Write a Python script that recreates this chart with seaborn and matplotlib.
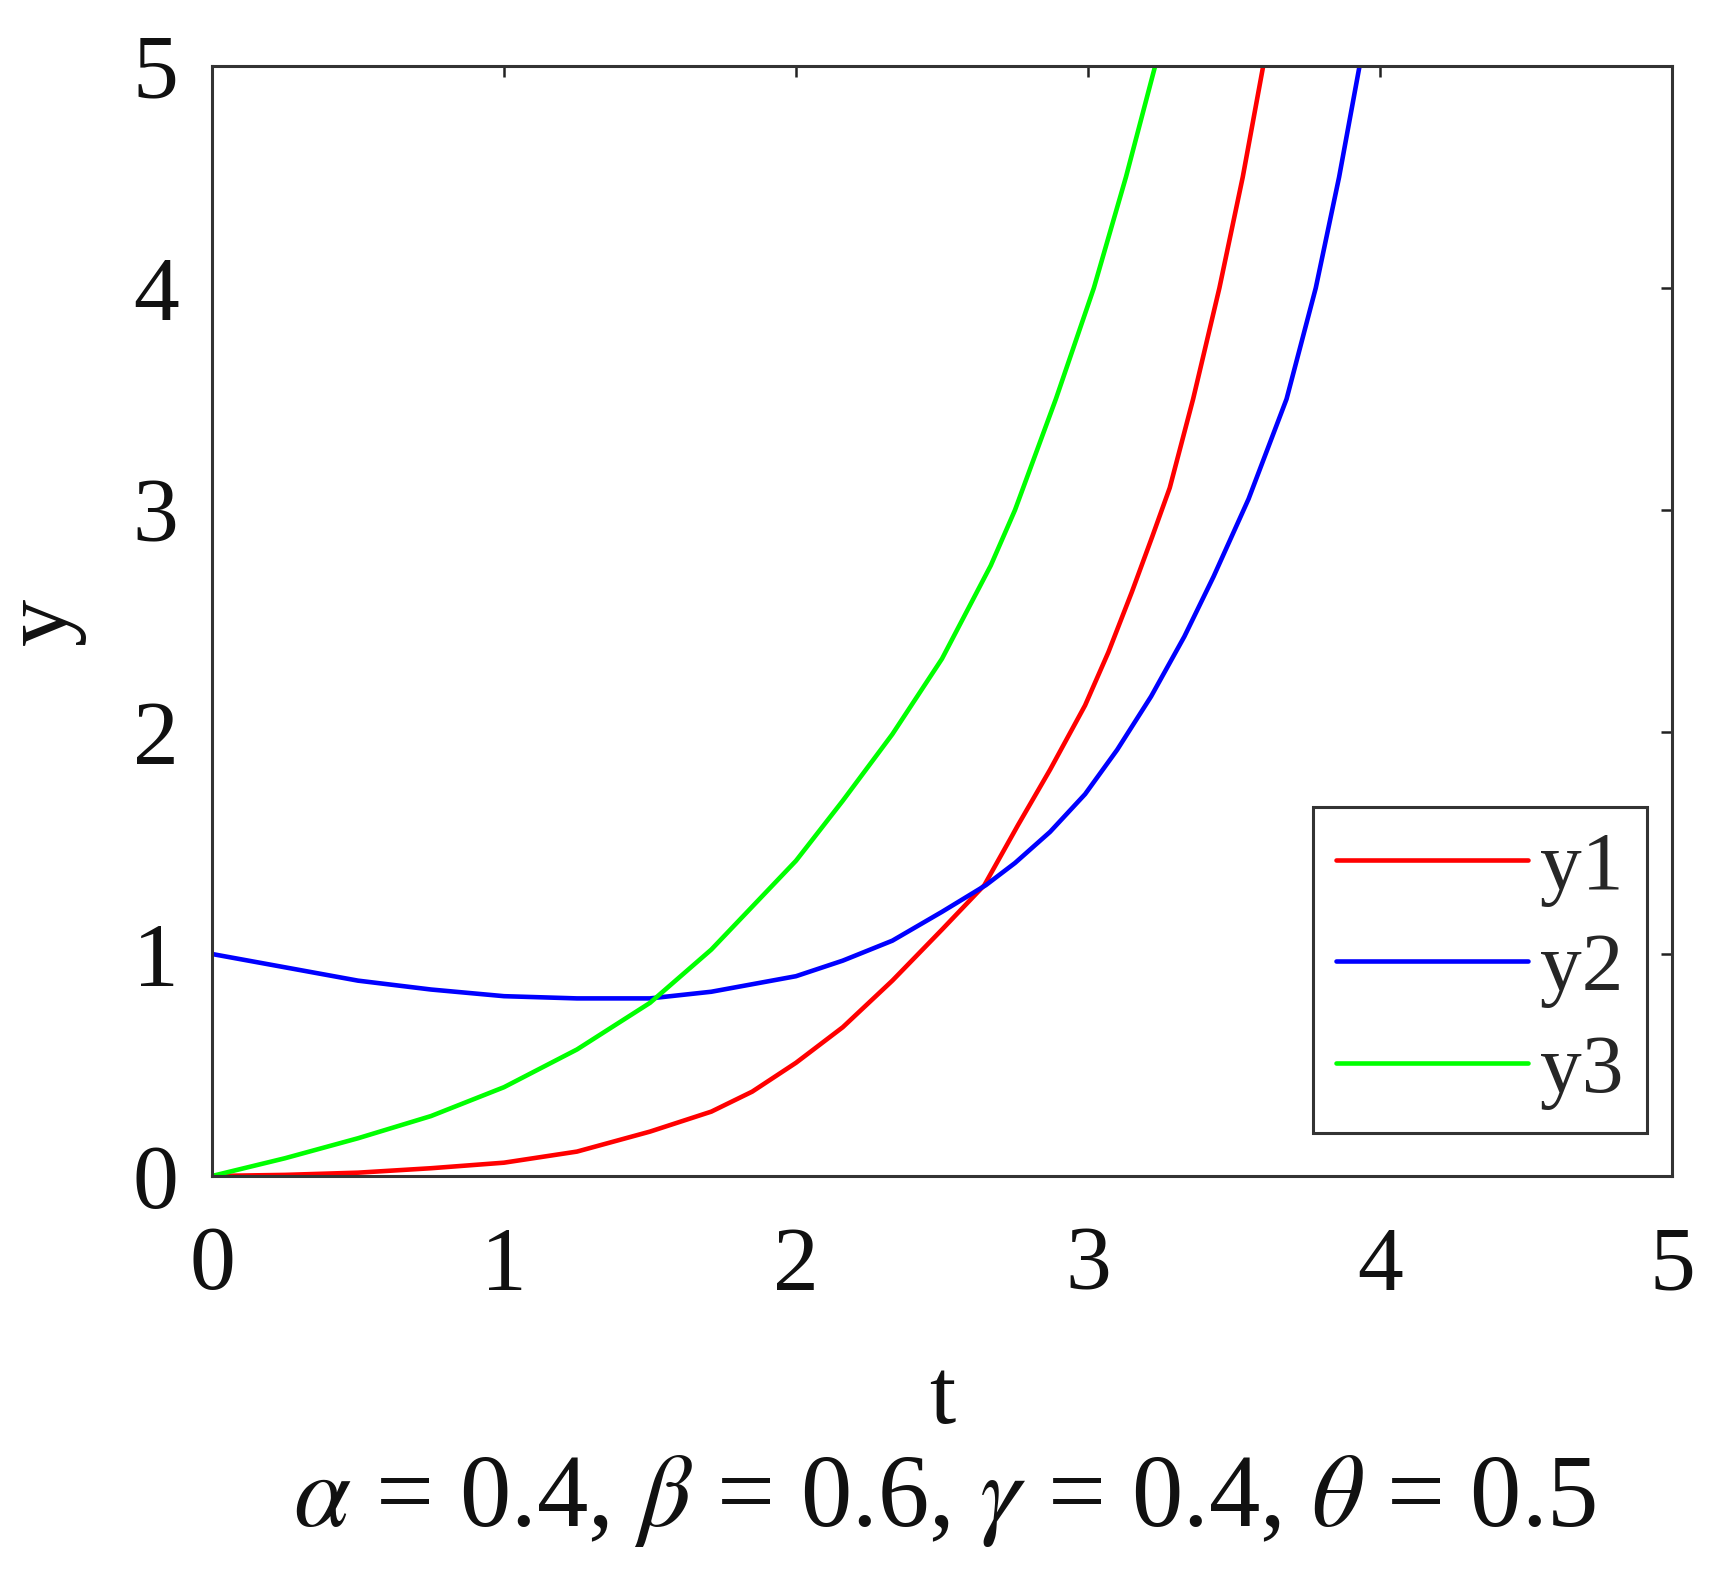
import numpy as np
import pandas as pd
import matplotlib
matplotlib.use("Agg")
import matplotlib.pyplot as plt
import seaborn as sns

# ---- data ----
t_y1 = [0.0, 0.25, 0.5, 0.75, 1.0, 1.25, 1.5, 1.71, 1.85, 2.0, 2.16, 2.33, 2.5, 2.645,
        2.76, 2.87, 2.99, 3.07, 3.15, 3.22, 3.28, 3.36, 3.45, 3.53, 3.60]
y1 = [0.0, 0.005, 0.015, 0.035, 0.06, 0.11, 0.20, 0.29, 0.38, 0.51, 0.67, 0.88, 1.11, 1.31,
      1.58, 1.83, 2.12, 2.36, 2.63, 2.88, 3.10, 3.50, 4.00, 4.50, 5.00]

t_y2 = [0.0, 0.25, 0.5, 0.75, 1.0, 1.25, 1.5, 1.71, 2.0, 2.16, 2.33, 2.5, 2.65, 2.75, 2.87,
        2.99, 3.10, 3.216, 3.33, 3.43, 3.55, 3.68, 3.78, 3.86, 3.93]
y2 = [1.0, 0.94, 0.88, 0.84, 0.81, 0.80, 0.80, 0.83, 0.90, 0.97, 1.06, 1.19, 1.31, 1.41, 1.55,
      1.72, 1.92, 2.16, 2.43, 2.70, 3.05, 3.50, 4.00, 4.50, 5.00]

t_y3 = [0.0, 0.25, 0.5, 0.75, 1.0, 1.25, 1.5, 1.71, 2.0, 2.16, 2.33, 2.5, 2.667, 2.75,
        2.89, 3.02, 3.13, 3.23]
y3 = [0.0, 0.08, 0.17, 0.27, 0.40, 0.57, 0.78, 1.02, 1.42, 1.69, 1.99, 2.33, 2.75, 3.00,
      3.50, 4.00, 4.50, 5.00]

series_names = ["y1", "y2", "y3"]
series_colors = ["#FF0000", "#0000FF", "#00FF00"]
x_ticks = [0, 1, 2, 3, 4, 5]
y_ticks = [0, 1, 2, 3, 4, 5]
x_label = "t"
y_label = "y"
caption = r"$\alpha$ = 0.4, $\beta$ = 0.6, $\gamma$ = 0.4, $\theta$ = 0.5"

df = pd.concat([
    pd.DataFrame({"t": t_y1, "y": y1, "series": "y1"}),
    pd.DataFrame({"t": t_y2, "y": y2, "series": "y2"}),
    pd.DataFrame({"t": t_y3, "y": y3, "series": "y3"}),
], ignore_index=True)

sns.set_style("white")
plt.rcParams["font.family"] = ["Liberation Serif", "DejaVu Serif"]
plt.rcParams["mathtext.fontset"] = "stix"

fig = plt.figure(figsize=(17.24, 15.91), dpi=100)
ax = fig.add_axes([212 / 1724, 1 - 1176 / 1591, (1672 - 212) / 1724, (1176 - 66) / 1591])

sns.lineplot(data=df, x="t", y="y", hue="series", hue_order=series_names,
             palette=dict(zip(series_names, series_colors)), linewidth=3.3,
             sort=False, estimator=None, ax=ax)
for ln in ax.get_lines():
    ln.set_solid_joinstyle("round")

ax.set_xlim(0, 5)
ax.set_ylim(0, 5)
ax.set_xticks(x_ticks)
ax.set_yticks(y_ticks)
ax.set_xticklabels([str(v) for v in x_ticks])
ax.set_yticklabels([str(v) for v in y_ticks])
ax.tick_params(axis="both", direction="in", length=8, width=1.8, colors="#222222",
               labelcolor="#111111", labelsize=66, top=True, right=True)
ax.tick_params(axis="x", pad=36)
ax.tick_params(axis="y", pad=24)
for s in ax.spines.values():
    s.set_visible(True)
    s.set_color("#333333")
    s.set_linewidth(2.2)

ax.set_xlabel(x_label, fontsize=68, labelpad=36, color="#111111")
ax.set_ylabel(y_label, fontsize=68, labelpad=34, color="#111111")

leg = ax.legend(loc="lower right", bbox_to_anchor=(1647 / 1724, 1 - 1133 / 1591),
                bbox_transform=fig.transFigure, fontsize=60, frameon=True,
                fancybox=False, edgecolor="#333333", framealpha=1,
                handlelength=2.3, handletextpad=0.15, labelspacing=0.3,
                borderpad=0.28, borderaxespad=0)
leg.get_frame().set_linewidth(2.2)
for line in leg.get_lines():
    line.set_linewidth(3.3)

fig.text(945 / 1724, 1 - 1501 / 1591, caption, fontsize=74, ha="center", va="center",
         color="#111111")

fig.savefig("out.png", dpi=100, facecolor="white")
